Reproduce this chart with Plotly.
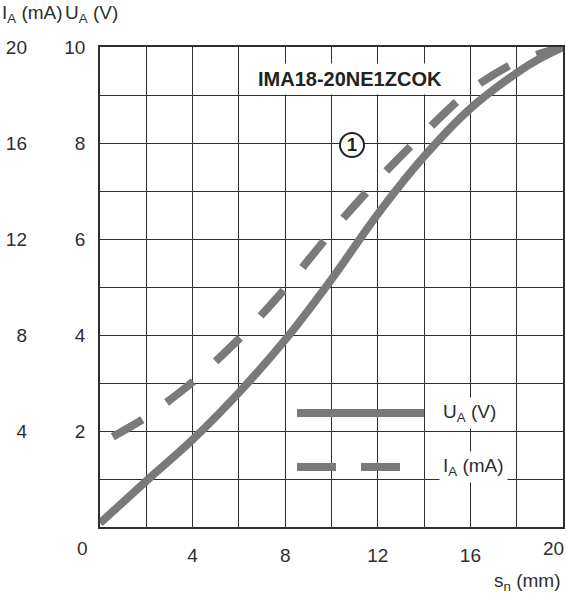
import plotly.graph_objects as go

# ---- data ----
# U_A (V) versus switching distance s_n (mm)
s_ua = [0, 2, 4, 6, 8, 10, 12, 14, 16, 18, 19, 20]
ua_v = [0.08, 0.96, 1.82, 2.8, 3.9, 5.16, 6.52, 7.72, 8.72, 9.46, 9.76, 10.0]

# I_A (mA) versus switching distance s_n (mm)
s_ia = [0.55, 2, 4, 6, 8, 10, 12, 14, 16, 18, 20]
ia_ma = [3.76, 4.58, 6.04, 7.84, 9.94, 12.3, 14.46, 16.42, 18.2, 19.38, 20.0]

x_ticks = [0, 2, 4, 6, 8, 10, 12, 14, 16, 18, 20]
x_ticktext = ["", "", "4", "", "8", "", "12", "", "16", "", ""]
ua_ticks = [0, 1, 2, 3, 4, 5, 6, 7, 8, 9, 10]
ua_ticktext = ["", "", "2", "", "4", "", "6", "", "8", "", "10"]
ia_ticks = [4, 8, 12, 16, 20]
ia_ticktext = ["4", "8", "12", "16", "20"]

title_text = "IMA18-20NE1ZCOK"
curve_label = "1"
legend_ua = "U<sub>A</sub> (V)"
legend_ia = "I<sub>A</sub> (mA)"

# ---- style ----
GRAY = "#7a7a7a"
INK = "#2e2e2e"
FONT = "Liberation Sans"
FS = 19

W, H = 566, 600
PL, PR, PT, PB = 100, 563, 47, 527          # plot box in page pixels
ML, MR, MT, MB = PL, W - PR, PT, H - PB
PW, PH = PR - PL, PB - PT


def px2paper_x(px):
    return (px - PL) / PW


def py2paper_y(py):
    return (PB - py) / PH


fig = go.Figure()
fig.add_trace(go.Scatter(x=s_ua, y=ua_v, mode="lines", yaxis="y",
                         line=dict(color=GRAY, width=8, shape="spline", smoothing=1.0),
                         showlegend=False, hoverinfo="skip"))
fig.add_trace(go.Scatter(x=s_ia, y=ia_ma, mode="lines", yaxis="y2",
                         line=dict(color=GRAY, width=8, shape="spline", smoothing=0.8,
                                   dash="34px,30px"),
                         showlegend=False, hoverinfo="skip"))

axis_common = dict(showline=True, mirror=True, linecolor=INK, linewidth=1.5,
                   showgrid=True, gridcolor=INK, gridwidth=1.3, zeroline=False,
                   ticks="", tickfont=dict(family=FONT, size=FS, color=INK),
                   fixedrange=True)

fig.update_layout(
    width=W, height=H,
    margin=dict(l=ML, r=MR, t=MT, b=MB, autoexpand=False),
    paper_bgcolor="white", plot_bgcolor="white",
    font=dict(family=FONT, size=FS, color=INK),
    xaxis=dict(range=[0, 20], tickmode="array", tickvals=x_ticks, ticktext=x_ticktext,
               ticklabelstandoff=10, **axis_common),
    yaxis=dict(range=[0, 10], tickmode="array", tickvals=ua_ticks, ticktext=ua_ticktext,
               ticklabelstandoff=9, **axis_common),
    yaxis2=dict(range=[0, 20], overlaying="y", side="left", tickmode="array",
                tickvals=ia_ticks, ticktext=ia_ticktext, showgrid=False, showline=False,
                zeroline=False, ticks="", ticklabelstandoff=72,
                tickfont=dict(family=FONT, size=FS, color=INK), fixedrange=True),
)

ann = []
# corner tick labels, shifted as in the original
ann.append(dict(x=0, y=0, xref="x", yref="paper", text="0", showarrow=False,
                xanchor="center", yanchor="middle", xshift=-18, yshift=-21,
                font=dict(size=FS)))
ann.append(dict(x=20, y=0, xref="x", yref="paper", text="20", showarrow=False,
                xanchor="center", yanchor="middle", xshift=-10, yshift=-21,
                font=dict(size=FS)))
# axis titles
ann.append(dict(x=px2paper_x(0), y=py2paper_y(14), xref="paper", yref="paper",
                text="I<sub>A</sub> (mA)", showarrow=False, xanchor="left", yanchor="middle",
                font=dict(size=FS)))
ann.append(dict(x=px2paper_x(63), y=py2paper_y(14), xref="paper", yref="paper",
                text="U<sub>A</sub> (V)", showarrow=False, xanchor="left", yanchor="middle",
                font=dict(size=FS)))
ann.append(dict(x=1, y=py2paper_y(582), xref="paper", yref="paper",
                text="s<sub>n</sub> (mm)", showarrow=False, xanchor="right", yanchor="middle",
                font=dict(size=FS)))
# product title
ann.append(dict(x=px2paper_x(350), y=py2paper_y(79), xref="paper", yref="paper",
                text="<b>" + title_text + "</b>", showarrow=False, xanchor="center",
                yanchor="middle", bgcolor="white", borderpad=4,
                font=dict(size=20, color="#222")))
# legend texts
ann.append(dict(x=px2paper_x(439), y=py2paper_y(413), xref="paper", yref="paper",
                text=legend_ua, showarrow=False, xanchor="left", yanchor="middle",
                bgcolor="white", borderpad=3, font=dict(size=FS)))
ann.append(dict(x=px2paper_x(439), y=py2paper_y(467), xref="paper", yref="paper",
                text=legend_ia, showarrow=False, xanchor="left", yanchor="middle",
                bgcolor="white", borderpad=3, font=dict(size=FS)))
# curve marker label
ann.append(dict(x=px2paper_x(352), y=py2paper_y(145), xref="paper", yref="paper",
                text="<b>" + curve_label + "</b>", showarrow=False, xanchor="center",
                yanchor="middle", font=dict(size=18, color="#222")))
fig.update_layout(annotations=ann)

shapes = []
# circle around marker label
shapes.append(dict(type="circle", xref="paper", yref="paper",
                   x0=px2paper_x(340), x1=px2paper_x(364),
                   y0=py2paper_y(157), y1=py2paper_y(133),
                   line=dict(color="#222", width=2), fillcolor="white", layer="above"))
# legend line samples
shapes.append(dict(type="line", xref="paper", yref="paper",
                   x0=px2paper_x(297), x1=px2paper_x(424),
                   y0=py2paper_y(413), y1=py2paper_y(413),
                   line=dict(color=GRAY, width=8)))
for a, b in [(297, 336), (361, 400)]:
    shapes.append(dict(type="line", xref="paper", yref="paper",
                       x0=px2paper_x(a), x1=px2paper_x(b),
                       y0=py2paper_y(467), y1=py2paper_y(467),
                       line=dict(color=GRAY, width=8)))
fig.update_layout(shapes=shapes)

# remove the browser's default page margin so the 566x600 figure fills the window
fig.write_html("out.html",
               config={"displayModeBar": False},
               post_script="document.body.style.margin='0px';"
                           "document.body.style.overflow='hidden';")
